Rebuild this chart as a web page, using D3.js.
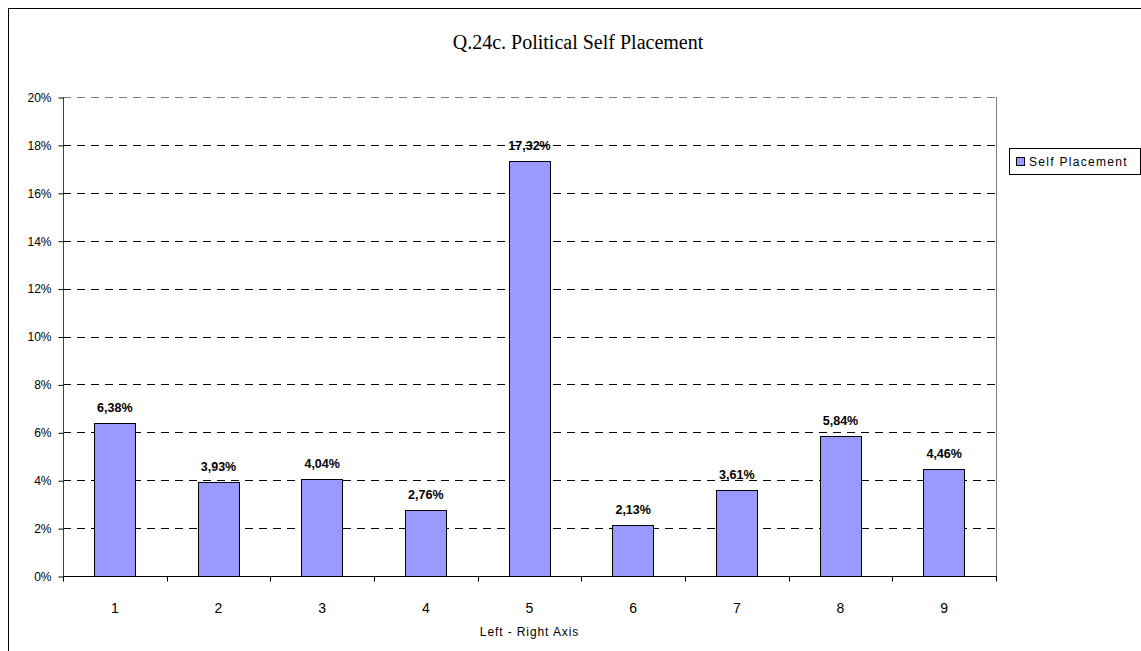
<!DOCTYPE html>
<html>
<head>
<meta charset="utf-8">
<script src="https://cdn.jsdelivr.net/npm/d3@7"></script>
<style>
html,body{margin:0;padding:0;background:#fff;}
svg{display:block;}
</style>
</head>
<body>
<svg id="chart" width="1141" height="651"></svg>
<script>
const title = "Q.24c. Political Self Placement";
const categories = ["1","2","3","4","5","6","7","8","9"];
const values = [6.38, 3.93, 4.04, 2.76, 17.32, 2.13, 3.61, 5.84, 4.46];
const valueLabels = ["6,38%","3,93%","4,04%","2,76%","17,32%","2,13%","3,61%","5,84%","4,46%"];
const yTicks = [0,2,4,6,8,10,12,14,16,18,20];
const seriesName = "Self Placement";
const xTitle = "Left - Right Axis";

const SANS = "'Liberation Sans', Arial, sans-serif";
const svg = d3.select("#chart");
const m = {left:63, right:996, top:97, bottom:576};

// outer frame
svg.append("rect").attr("x",8.5).attr("y",8.5).attr("width",1200).attr("height",700)
  .attr("fill","none").attr("stroke","#000").attr("stroke-width",1);

svg.append("text").attr("x",578).attr("y",49).attr("text-anchor","middle")
  .attr("font-family","'Liberation Serif', 'DejaVu Serif', serif").attr("font-size",20)
  .attr("fill","#000").text(title);

const x = d3.scaleBand().domain(categories).range([m.left,m.right]).paddingInner(0.6).paddingOuter(0.3);
const xb = d3.scaleBand().domain(categories).range([m.left,m.right]);
const y = d3.scaleLinear().domain([0,20]).range([m.bottom,m.top]);

// gridlines
svg.append("g").selectAll("line").data(yTicks.filter(t=>t>0)).join("line")
  .attr("x1",m.left).attr("x2",m.right)
  .attr("y1",d=>Math.round(y(d))+0.5).attr("y2",d=>Math.round(y(d))+0.5)
  .attr("stroke",d=>d===20?"#808080":"#000").attr("stroke-width",1)
  .attr("stroke-dasharray","8,6");

// right plot border
svg.append("line").attr("x1",m.right+0.5).attr("x2",m.right+0.5).attr("y1",m.top).attr("y2",m.bottom)
  .attr("stroke","#808080");

// bars
svg.append("g").selectAll("rect").data(values).join("rect")
  .attr("x",(d,i)=>Math.round(x(categories[i]))+0.5)
  .attr("y",d=>Math.round(y(d))+0.5)
  .attr("width",Math.round(x.bandwidth()))
  .attr("height",d=>Math.round(y(0))-Math.round(y(d)))
  .attr("fill","#9999FF").attr("stroke","#000").attr("stroke-width",1);

// value labels
svg.append("g").selectAll("text").data(values).join("text")
  .attr("x",(d,i)=>x(categories[i])+x.bandwidth()/2)
  .attr("y",d=>y(d)-11)
  .attr("text-anchor","middle")
  .attr("font-family",SANS).attr("font-weight","bold").attr("font-size",12.5)
  .attr("fill","#000").text((d,i)=>valueLabels[i]);

// y axis
const yAxis = d3.axisLeft(y).tickValues(yTicks).tickFormat(d=>d+"%").tickSize(5).tickPadding(7);
const gy = svg.append("g").attr("transform",`translate(${m.left+0.5},0.5)`).call(yAxis);
gy.select(".domain").attr("stroke","#404040").attr("d",`M0,${m.top}V${m.bottom}`);
gy.selectAll(".tick line").attr("stroke","#000");
gy.selectAll("text").attr("font-family",SANS).attr("font-size",12).attr("fill","#000");

// x axis
const gx = svg.append("g").attr("transform",`translate(0,${m.bottom+0.5})`);
gx.append("line").attr("x1",m.left).attr("x2",m.right+1).attr("y1",0).attr("y2",0).attr("stroke","#000");
gx.selectAll("line.tk").data(categories.concat(["end"])).join("line").attr("class","tk")
  .attr("x1",(d,i)=>Math.round(m.left + i*xb.step())+0.5).attr("x2",(d,i)=>Math.round(m.left + i*xb.step())+0.5)
  .attr("y1",0).attr("y2",5).attr("stroke","#000");
gx.selectAll("text").data(categories).join("text")
  .attr("x",d=>xb(d)+xb.bandwidth()/2).attr("y",36)
  .attr("text-anchor","middle")
  .attr("font-family",SANS).attr("font-size",14).attr("fill","#000")
  .text(d=>d);

svg.append("text").attr("x",(m.left+m.right)/2).attr("y",636).attr("text-anchor","middle")
  .attr("font-family",SANS).attr("font-size",12).attr("letter-spacing",0.9)
  .attr("fill","#000").text(xTitle);

// legend
const lg = svg.append("g");
lg.append("rect").attr("x",1009.5).attr("y",148.5).attr("width",131).attr("height",26)
  .attr("fill","#fff").attr("stroke","#000");
lg.append("rect").attr("x",1016.5).attr("y",157.5).attr("width",8).attr("height",8)
  .attr("fill","#9999FF").attr("stroke","#000");
lg.append("text").attr("x",1029).attr("y",166)
  .attr("font-family",SANS).attr("font-size",12).attr("letter-spacing",1.3)
  .attr("fill","#000").text(seriesName);
</script>
</body>
</html>
